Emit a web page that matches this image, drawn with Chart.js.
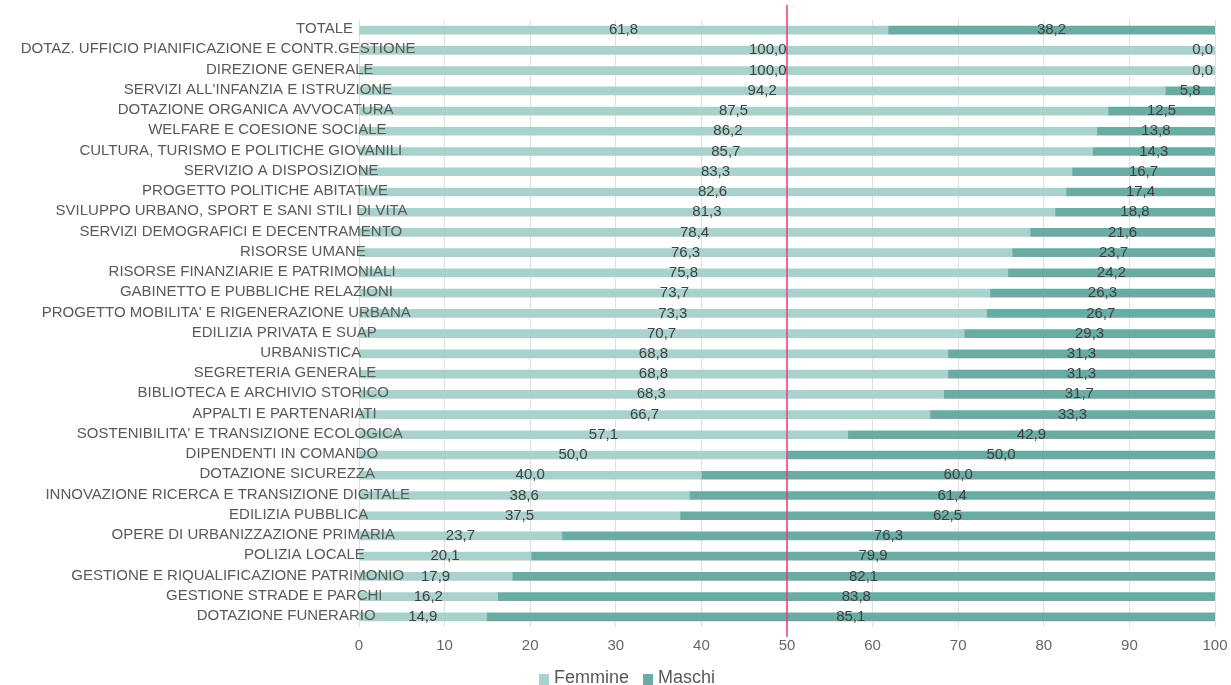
<!DOCTYPE html>
<html>
<head>
<meta charset="utf-8">
<script src="https://cdn.jsdelivr.net/npm/chart.js@4/dist/chart.umd.min.js"></script>
<style>
  html, body { margin: 0; padding: 0; background: #ffffff; overflow: hidden; }
  #wrap { position: relative; width: 1231px; height: 685px; }
</style>
</head>
<body>
<div id="wrap"><canvas id="c" width="1231" height="685"></canvas></div>
<script>
const categories = [
  "TOTALE",
  "DOTAZ. UFFICIO PIANIFICAZIONE E CONTR.GESTIONE",
  "DIREZIONE GENERALE",
  "SERVIZI ALL'INFANZIA E ISTRUZIONE",
  "DOTAZIONE ORGANICA AVVOCATURA",
  "WELFARE E COESIONE SOCIALE",
  "CULTURA, TURISMO E POLITICHE GIOVANILI",
  "SERVIZIO A DISPOSIZIONE",
  "PROGETTO POLITICHE ABITATIVE",
  "SVILUPPO URBANO, SPORT E SANI STILI DI VITA",
  "SERVIZI DEMOGRAFICI E DECENTRAMENTO",
  "RISORSE UMANE",
  "RISORSE FINANZIARIE E PATRIMONIALI",
  "GABINETTO E PUBBLICHE RELAZIONI",
  "PROGETTO MOBILITA' E RIGENERAZIONE URBANA",
  "EDILIZIA PRIVATA E SUAP",
  "URBANISTICA",
  "SEGRETERIA GENERALE",
  "BIBLIOTECA E ARCHIVIO STORICO",
  "APPALTI E PARTENARIATI",
  "SOSTENIBILITA' E TRANSIZIONE ECOLOGICA",
  "DIPENDENTI IN COMANDO",
  "DOTAZIONE SICUREZZA",
  "INNOVAZIONE RICERCA E TRANSIZIONE DIGITALE",
  "EDILIZIA PUBBLICA",
  "OPERE DI URBANIZZAZIONE PRIMARIA",
  "POLIZIA LOCALE",
  "GESTIONE E RIQUALIFICAZIONE PATRIMONIO",
  "GESTIONE STRADE E PARCHI",
  "DOTAZIONE FUNERARIO"
];
const femmine = [61.8, 100.0, 100.0, 94.2, 87.5, 86.2, 85.7, 83.3, 82.6, 81.3, 78.4, 76.3, 75.8, 73.7, 73.3, 70.7, 68.8, 68.8, 68.3, 66.7, 57.1, 50.0, 40.0, 38.6, 37.5, 23.7, 20.1, 17.9, 16.2, 14.9];
const maschi  = [38.2, 0.0, 0.0, 5.8, 12.5, 13.8, 14.3, 16.7, 17.4, 18.8, 21.6, 23.7, 24.2, 26.3, 26.7, 29.3, 31.3, 31.3, 31.7, 33.3, 42.9, 50.0, 60.0, 61.4, 62.5, 76.3, 79.9, 82.1, 83.8, 85.1];
const seriesNames = ["Femmine", "Maschi"];
const referenceValue = 50;

const FONT = '"Liberation Sans", Arial, sans-serif';
const COL_F = '#aad2cd';
const COL_M = '#6aaca4';
const fmt = v => v.toFixed(1).replace('.', ',');

const overlayPlugin = {
  id: 'overlay',
  afterDraw(chart) {
    const ctx = chart.ctx;
    const xs = chart.scales.x, ys = chart.scales.y;
    const area = chart.chartArea;
    const lineCol = Math.round(xs.getPixelForValue(referenceValue));
    const lineX = lineCol + 0.5;

    // reference line
    ctx.save();
    ctx.strokeStyle = '#e8388c';
    ctx.lineWidth = 1.5;
    ctx.beginPath();
    ctx.moveTo(lineCol, Math.round(area.top) - 15);
    ctx.lineTo(lineCol, Math.round(area.bottom) + 10);
    ctx.stroke();
    ctx.restore();

    // category labels
    ctx.save();
    ctx.font = '15px ' + FONT;
    ctx.fillStyle = '#595959';
    ctx.textBaseline = 'middle';
    ctx.textAlign = 'left';
    const labelRef = area.left - 16.5;
    categories.forEach((c, i) => {
      const w = ctx.measureText(c).width;
      ctx.fillText(c, labelRef - 0.815 * w, ys.getPixelForValue(i) - 1);
    });
    ctx.restore();

    // value labels
    ctx.save();
    ctx.font = '15px ' + FONT;
    ctx.fillStyle = '#404040';
    ctx.textBaseline = 'middle';
    ctx.textAlign = 'left';
    [femmine, maschi].forEach((arr, di) => {
      arr.forEach((v, i) => {
        const start = di === 0 ? 0 : femmine[i];
        const x0 = xs.getPixelForValue(start);
        const x1 = xs.getPixelForValue(Math.min(100, start + v));
        const cx = (x0 + x1) / 2;
        const t = fmt(v);
        const w = ctx.measureText(t).width;
        let left = cx - w / 2;
        if (left < lineX && left + w > lineX) {
          if (cx >= lineX) left = lineX + 1; else left = lineX - 1 - w;
        }
        if (left + w > area.right - 2) left = area.right - 2 - w;
        if (left < area.left + 2) left = area.left + 2;
        ctx.fillText(t, left, ys.getPixelForValue(i));
      });
    });
    ctx.restore();

    // legend
    ctx.save();
    ctx.font = '18px ' + FONT;
    ctx.textBaseline = 'middle';
    ctx.textAlign = 'left';
    let lx = 539;
    const ly = 678;
    [COL_F, COL_M].forEach((col, k) => {
      ctx.fillStyle = col;
      ctx.fillRect(lx, ly - 4, 10, 11);
      ctx.fillStyle = '#595959';
      ctx.fillText(seriesNames[k], lx + 15, ly);
      lx += 15 + ctx.measureText(seriesNames[k]).width + 14;
    });
    ctx.restore();
  }
};

new Chart(document.getElementById('c'), {
  type: 'bar',
  data: {
    labels: categories,
    datasets: [
      { label: seriesNames[0], data: femmine, backgroundColor: COL_F, barThickness: 8, borderWidth: 0 },
      { label: seriesNames[1], data: maschi, backgroundColor: COL_M, barThickness: 8, borderWidth: 0 }
    ]
  },
  options: {
    indexAxis: 'y',
    responsive: false,
    animation: false,
    layout: { padding: { left: 359, right: 16, top: 20, bottom: 0 } },
    plugins: { legend: { display: false }, tooltip: { enabled: false } },
    scales: {
      x: {
        stacked: true,
        min: 0, max: 100,
        ticks: { stepSize: 10, color: '#666666', font: { family: FONT, size: 15 }, padding: 10 },
        grid: { color: '#e0e0e0', drawTicks: false },
        border: { display: false },
        afterFit(scale) { scale.height = 58; scale.paddingRight = 0; scale.paddingLeft = 0; }
      },
      y: {
        stacked: true,
        display: false
      }
    }
  },
  plugins: [overlayPlugin]
});
</script>
</body>
</html>
